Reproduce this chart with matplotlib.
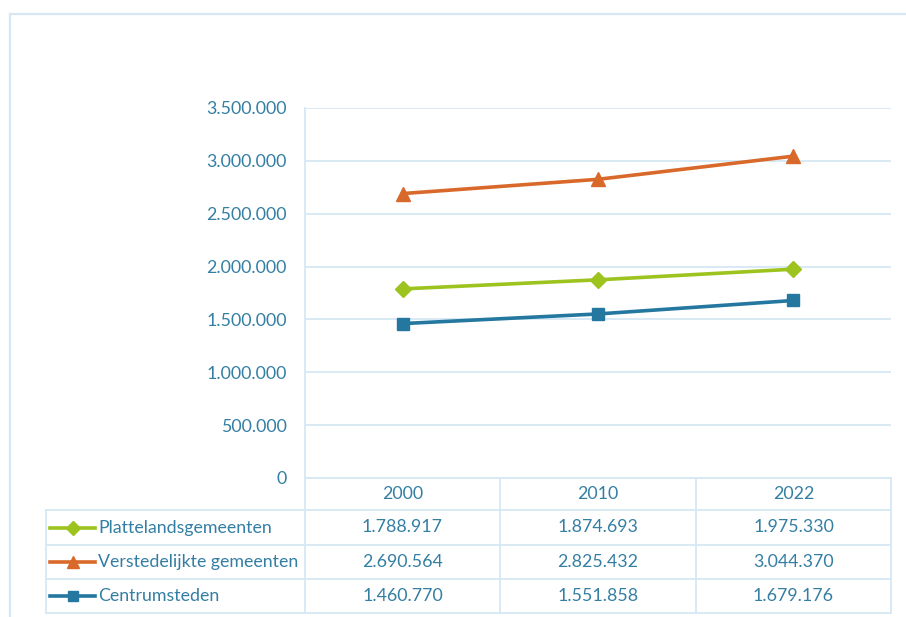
import matplotlib
matplotlib.use("Agg")
import matplotlib.pyplot as plt
from matplotlib.lines import Line2D

plt.rcParams['font.family'] = ['Lato', 'DejaVu Sans']

years = ["2000", "2010", "2022"]
series_names = ["Plattelandsgemeenten", "Verstedelijkte gemeenten", "Centrumsteden"]
platteland = [1788917, 1874693, 1975330]
verstedelijkt = [2690564, 2825432, 3044370]
centrum = [1460770, 1551858, 1679176]
yticks = [0, 500000, 1000000, 1500000, 2000000, 2500000, 3000000, 3500000]

series = [platteland, verstedelijkt, centrum]
colors = ["#9dc31e", "#d9692a", "#24789f"]
markers = ["D", "^", "s"]
msizes = [8, 10, 9]

TXT = "#337fa3"
GRID = "#d5e8f4"
FS = 12.8

W, H = 906, 617
fig = plt.figure(figsize=(W / 100, H / 100), dpi=100)

# plot area pixel bounds
x0, x1 = 305, 891
ytop, ybot = 108, 478

def fx(px):
    return px / W

def fy(py):
    return 1 - py / H

ax = fig.add_axes([fx(x0), fy(ybot), fx(x1) - fx(x0), fy(ytop) - fy(ybot)])
ax.set_xlim(0, len(years))
ax.set_ylim(0, 3500000)
for s in ["top", "right", "bottom"]:
    ax.spines[s].set_visible(False)
ax.spines["left"].set_color(GRID)
ax.spines["left"].set_linewidth(1.3)
ax.set_yticks(yticks)
ax.set_yticklabels([f"{v:,}".replace(",", ".") for v in yticks])
ax.tick_params(axis="y", length=0, labelsize=FS, labelcolor=TXT, pad=13)
ax.set_xticks([])
ax.yaxis.grid(True, color=GRID, linewidth=1.3)
ax.set_axisbelow(True)

xs = [i + 0.5 for i in range(len(years))]
for vals, c, m, ms in zip(series, colors, markers, msizes):
    ax.plot(xs, vals, color=c, linewidth=2.6, marker=m, markersize=ms,
            markerfacecolor=c, markeredgecolor=c, clip_on=False, zorder=3)

# overlay axes in pixel coords for frame and table
ov = fig.add_axes([0, 0, 1, 1])
ov.set_xlim(0, W)
ov.set_ylim(H, 0)
ov.axis("off")
ov.patch.set_alpha(0)

def hline(y, xa, xb, lw=1.3):
    ov.add_line(Line2D([xa, xb], [y, y], color=GRID, linewidth=lw))

def vline(x, ya, yb, lw=1.3):
    ov.add_line(Line2D([x, x], [ya, yb], color=GRID, linewidth=lw))

# outer frame
hline(14, 10, 906, lw=1.6)
vline(10, 14, 617, lw=1.6)

# table
row_edges = [478, 510, 545, 579, 613]
col_edges = [x0, 500, 696, x1]
tbl_left = 46
hline(row_edges[0], x0, x1)
for y in row_edges[1:]:
    hline(y, tbl_left, x1)
vline(tbl_left, row_edges[1], row_edges[-1])
for x in col_edges:
    vline(x, row_edges[0], row_edges[-1])

# header
for j, yr in enumerate(years):
    cx = (col_edges[j] + col_edges[j + 1]) / 2
    cy = (row_edges[0] + row_edges[1]) / 2
    ov.text(cx, cy, yr, ha="center", va="center", fontsize=FS, color=TXT)

for i, (name, vals, c, m, ms) in enumerate(zip(series_names, series, colors, markers, msizes)):
    cy = (row_edges[i + 1] + row_edges[i + 2]) / 2
    ov.add_line(Line2D([50, 95], [cy, cy], color=c, linewidth=2.6))
    ov.plot([72.5], [cy], marker=m, markersize=ms * 0.85, color=c)
    ov.text(98, cy, name, ha="left", va="center", fontsize=FS, color=TXT)
    for j, v in enumerate(vals):
        cx = (col_edges[j] + col_edges[j + 1]) / 2
        ov.text(cx, cy, f"{v:,}".replace(",", "."), ha="center", va="center",
                fontsize=FS, color=TXT)

fig.savefig("out.png", dpi=100, facecolor="white")
